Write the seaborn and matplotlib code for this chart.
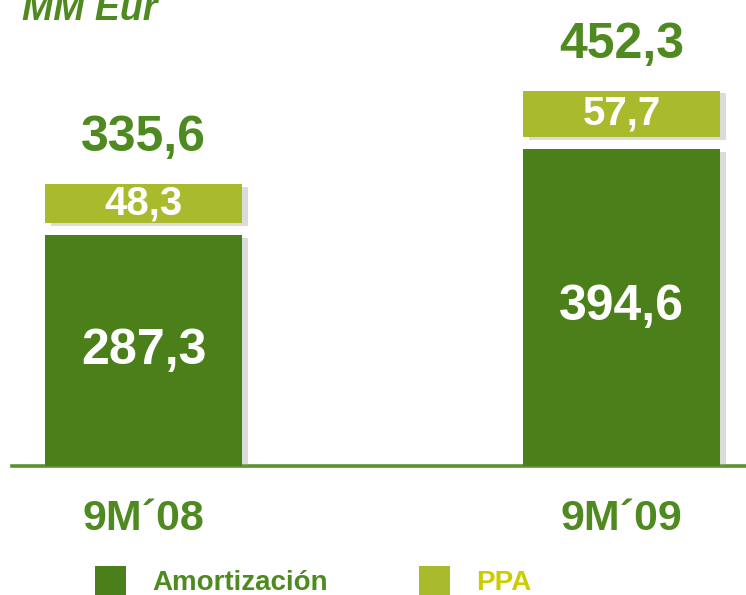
import matplotlib
matplotlib.use("Agg")
import matplotlib.pyplot as plt
import matplotlib.patheffects as pe
from matplotlib.patches import Patch
import seaborn as sns
import pandas as pd

periods = ["9M´08", "9M´09"]
amortizacion = [287.3, 394.6]
ppa = [48.3, 57.7]
totals = [335.6, 452.3]
amort_labels = ["287,3", "394,6"]
ppa_labels = ["48,3", "57,7"]
total_labels = ["335,6", "452,3"]

DARK = "#4A7F19"
LIGHT = "#A9BA2C"
TITLE_GREEN = "#4E8A1F"
YELLOW = "#CCCC00"
GAP = 15  # white gap between the stacked segments (data units)

sns.set_theme(style="white")
plt.rcParams["font.family"] = ["Liberation Sans", "DejaVu Sans"]

df = pd.DataFrame({"period": periods, "amort": amortizacion, "ppa": ppa})
ppa_bottom = [a + GAP for a in amortizacion]

fig = plt.figure(figsize=(7.46, 5.95), dpi=100)
ax = fig.add_axes([12 / 746, 129 / 595, 734 / 746, 466 / 595])

sns.barplot(data=df, x="period", y="amort", color=DARK, saturation=1,
            width=0.412, ax=ax)
ax.bar(range(len(periods)), ppa, bottom=ppa_bottom, width=0.412,
       color=LIGHT, linewidth=0)

shadow = [pe.SimplePatchShadow(offset=(4, -2), shadow_rgbFace="#999999", alpha=0.35),
          pe.Normal()]
for p in ax.patches:
    p.set_path_effects(shadow)
    p.set_linewidth(0)

ax.set_xlim(-0.275, 1.26)
ax.set_ylim(0, 580)
ax.set_xlabel("")
ax.set_ylabel("")
ax.set_xticks([])
ax.set_yticks([])
for side in ["top", "right", "left"]:
    ax.spines[side].set_visible(False)
ax.spines["bottom"].set_color("#5B9230")
ax.spines["bottom"].set_linewidth(2.6)
ax.spines["bottom"].set_zorder(0.5)

bold = dict(fontweight="bold", ha="center", va="center")
for i in range(len(periods)):
    ax.text(i, amortizacion[i] / 2, amort_labels[i], color="white", fontsize=36, **bold)
    ax.text(i, ppa_bottom[i] + ppa[i] / 2, ppa_labels[i], color="white", fontsize=29, **bold)
    ax.annotate(total_labels[i], (i, ppa_bottom[i] + ppa[i]), xytext=(0, 33),
                textcoords="offset points", color=TITLE_GREEN, fontsize=36, **bold)
    ax.annotate(periods[i], (i, 0), xytext=(0, -38), textcoords="offset points",
                color=TITLE_GREEN, fontsize=31, annotation_clip=False, **bold)

fig.text(22 / 746, 1 - 20 / 595, "MM Eur", color=TITLE_GREEN, fontsize=27,
         fontweight="bold", fontstyle="italic", ha="left", va="baseline")

handles = [Patch(facecolor=DARK, edgecolor="none"), Patch(facecolor=LIGHT, edgecolor="none")]
leg = fig.legend(handles, ["Amortización", "PPA"], ncol=2, loc="upper left",
                 bbox_to_anchor=(95 / 746, 1 - 566 / 595), frameon=False,
                 fontsize=20, handlelength=1.1, handleheight=1.3,
                 handletextpad=0.95, columnspacing=3.3, borderpad=0, borderaxespad=0)
for t, c in zip(leg.get_texts(), [TITLE_GREEN, YELLOW]):
    t.set_color(c)
    t.set_fontweight("bold")

fig.savefig("out.png", dpi=100)
